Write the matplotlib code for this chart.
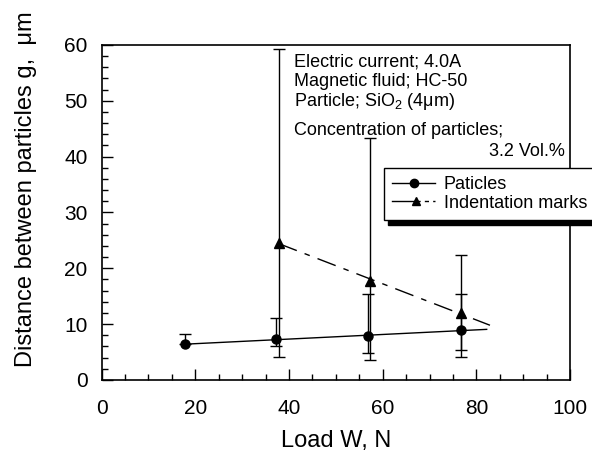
import numpy as np
import matplotlib
matplotlib.use("Agg")
import matplotlib.pyplot as plt
from matplotlib.lines import Line2D
from matplotlib.legend_handler import HandlerBase

plt.rcParams["font.family"] = ["Liberation Sans", "DejaVu Sans"]
plt.rcParams["mathtext.fontset"] = "custom"
plt.rcParams["mathtext.rm"] = "Liberation Sans"
plt.rcParams["mathtext.it"] = "Liberation Sans:italic"

# --- dati ---
# particelle
part_x = [17.8, 37.3, 56.9, 76.8]
part_y = [6.4, 7.3, 7.9, 8.9]
part_lo = [6.4, 6.0, 4.9, 5.3]
part_hi = [8.2, 11.05, 15.4, 15.4]

# impronte (indentation marks)
ind_x = [37.8, 57.2, 76.8]
ind_y = [24.6, 17.8, 11.95]
ind_lo = [4.05, 3.5, 4.05]
ind_hi = [59.3, 43.3, 22.4]

# estremo destro delle rette di regressione
part_fit_xmax = 82.2
ind_fit_xmax = 82.9

legend_labels = ["Paticles", "Indentation marks"]
info_lines = ["Electric current; 4.0A",
              "Magnetic fluid; HC-50",
              "Particle; SiO$_2$ (4\u03bcm)",
              "Concentration of particles;"]
info_last = "3.2 Vol.%"


class SplitLineHandler(HandlerBase):
    """maniglia legenda: meta' continua, marker, meta' tratteggiata"""
    def create_artists(self, legend, orig, xd, yd, w, h, fs, trans):
        x0, x1 = -xd, -xd + w
        xm = x0 + 0.55 * w
        yc = 0.5 * (h - yd)
        a = Line2D([x0, xm], [yc, yc], color="black", lw=1)
        b = Line2D([xm, x1], [yc, yc], color="black", lw=1, ls=(0, (3, 3)))
        m = Line2D([xm], [yc], color="black", marker="^", ms=6, ls="none")
        for art in (a, b, m):
            art.set_transform(trans)
        return [a, b, m]


fig = plt.figure(figsize=(5.92, 4.54), dpi=100)
ax = fig.add_axes([0.1715, 0.163, 0.7915, 0.738])

px, py = np.array(part_x), np.array(part_y)
ix, iy = np.array(ind_x), np.array(ind_y)

# barre d'errore (asimmetriche)
ax.errorbar(px, py, yerr=[py - np.array(part_lo), np.array(part_hi) - py],
            fmt="none", ecolor="black", elinewidth=1, capsize=4.5, capthick=1)
ax.errorbar(ix, iy, yerr=[iy - np.array(ind_lo), np.array(ind_hi) - iy],
            fmt="none", ecolor="black", elinewidth=1, capsize=4.5, capthick=1)

# rette di regressione
k1 = np.polyfit(px, py, 1)
xx1 = np.array([px.min(), part_fit_xmax])
ax.plot(xx1, np.polyval(k1, xx1), "-", color="black", lw=1)
k2 = np.polyfit(ix, iy, 1)
xx2 = np.array([ix.min(), ind_fit_xmax])
ax.plot(xx2, np.polyval(k2, xx2), color="black", lw=1, dashes=(14, 6, 4, 6))

ax.plot(px, py, "o", color="black", ms=6.5)
ax.plot(ix, iy, "^", color="black", ms=6.5)

ax.set_xlim(0, 100)
ax.set_ylim(0, 60)
ax.set_xticks(np.arange(0, 101, 20))
ax.set_xticks(np.arange(0, 101, 5), minor=True)
ax.set_yticks(np.arange(0, 61, 10))
ax.set_yticks(np.arange(0, 61, 2), minor=True)
ax.tick_params(which="both", direction="in", top=False, right=False,
               labelsize=15, width=1)
ax.tick_params(axis="x", which="major", length=8, pad=14)
ax.tick_params(axis="y", which="major", length=8, pad=10)
ax.tick_params(which="minor", length=4.5)
for sp in ax.spines.values():
    sp.set_linewidth(1.2)

ax.set_xlabel("Load W, N", fontsize=17)
ax.xaxis.set_label_coords(0.5, -0.148)
ax.set_ylabel("Distance between particles g,  \u03bcm", fontsize=17)
ax.yaxis.set_label_coords(-0.138, 0.57)

# testo informativo
ys = [0.948, 0.892, 0.832, 0.746]
for line, yy in zip(info_lines, ys):
    ax.text(0.41, yy, line, transform=ax.transAxes, fontsize=13,
            ha="left", va="center")
ax.text(0.988, 0.682, info_last, transform=ax.transAxes, fontsize=13,
        ha="right", va="center")

h1 = Line2D([], [], color="black", lw=1, marker="o", ms=6)
h2 = object()
leg = fig.legend([h1, h2], legend_labels, loc="upper left",
                 bbox_to_anchor=(384 / 592, 1 - 168 / 454), borderaxespad=0,
                 fontsize=13, frameon=True, fancybox=False,
                 shadow={"color": "black", "alpha": 1, "ox": 3, "oy": -3.5},
                 edgecolor="black", framealpha=1, handlelength=2.4,
                 handletextpad=0.45, labelspacing=0.08, borderpad=0.45,
                 handler_map={h2: SplitLineHandler()})
leg.get_frame().set_linewidth(1)

fig.savefig("out.png", dpi=100)
